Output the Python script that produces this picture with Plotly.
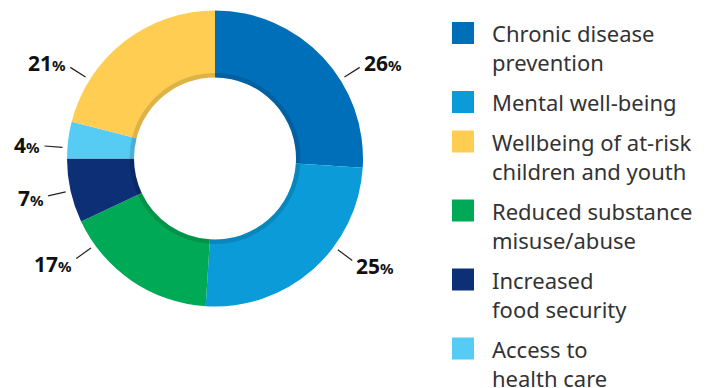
import math
import plotly.graph_objects as go

# ---- data ----
categories = ["Chronic disease prevention", "Mental well-being", "Reduced substance misuse/abuse",
              "Increased food security", "Access to health care", "Wellbeing of at-risk children and youth"]
values = [26, 25, 17, 7, 4, 21]
colors = ["#006fb9", "#0a9bd8", "#00a956", "#0c2f76", "#56cbf4", "#fecd52"]

legend_labels = ["Chronic disease<br>prevention", "Mental well-being", "Wellbeing of at-risk<br>children and youth",
                 "Reduced substance<br>misuse/abuse", "Increased<br>food security", "Access to<br>health care"]
legend_colors = ["#006fb9", "#0a9bd8", "#fecd52", "#00a956", "#0c2f76", "#56cbf4"]

# ---- layout constants (pixels) ----
W, H = 716, 388
CX, CY, R, R_IN = 215, 158.5, 148, 81
leader_shift = [11, -12, 20, 0, -3, -20]   # designer offsets of leader lines from slice mid-angle (deg)

def px(x):
    return x / W

def py(y):
    return (H - y) / H

fig = go.Figure()
fig.add_trace(go.Pie(
    values=values, labels=categories, sort=False, direction="clockwise", rotation=0,
    hole=R_IN / R, marker=dict(colors=colors, line=dict(width=0)),
    textinfo="none", hoverinfo="label+percent", showlegend=False,
    domain=dict(x=[px(CX - R), px(CX + R)], y=[py(CY + R), py(CY - R)]),
))
# subtle inner shadow ring
RS = R_IN + 4.5
fig.add_trace(go.Pie(
    values=values, sort=False, direction="clockwise", rotation=0,
    hole=R_IN / RS, marker=dict(colors=["rgba(0,0,0,0.13)"] * len(values), line=dict(width=0)),
    textinfo="none", hoverinfo="skip", showlegend=False,
    domain=dict(x=[px(CX - RS), px(CX + RS)], y=[py(CY + RS), py(CY - RS)]),
))

shapes = []
annotations = []
total = sum(values)
cum = 0
for v, shift in zip(values, leader_shift):
    mid = (cum + v / 2) / total * 360
    cum += v
    a = math.radians(mid + shift)
    s, c = math.sin(a), math.cos(a)
    x0, y0 = CX + 153 * s, CY - 153 * c
    x1, y1 = CX + 171 * s, CY - 171 * c
    shapes.append(dict(type="line", xref="paper", yref="paper", x0=px(x0), y0=py(y0), x1=px(x1), y1=py(y1),
                       line=dict(color="#222222", width=1.2)))
    right = s > 0
    annotations.append(dict(
        xref="paper", yref="paper", x=px(x1 + (2 if right else -2)), y=py(CY - 180 * c),
        xanchor="left" if right else "right", yanchor="middle", showarrow=False,
        text=f"<b>{v}<span style='font-size:15px'>%</span></b>",
        font=dict(family="Noto Sans", size=21, color="#111111"),
    ))

# manual legend
top = 22
LINE = 29.5
for lab, col in zip(legend_labels, legend_colors):
    lines = lab.split("<br>")
    shapes.append(dict(type="rect", xref="paper", yref="paper", x0=px(452), x1=px(474), y0=py(top), y1=py(top + 22),
                       fillcolor=col, line=dict(width=0)))
    for i, ln in enumerate(lines):
        annotations.append(dict(
            xref="paper", yref="paper", x=px(490), y=py(top + 11 + i * LINE),
            xanchor="left", yanchor="middle", align="left", showarrow=False, text=ln,
            font=dict(family="Noto Sans", size=22, color="#333333"),
        ))
    top += len(lines) * LINE + 10

fig.update_layout(
    width=W, height=H, margin=dict(l=0, r=0, t=0, b=0),
    paper_bgcolor="white", plot_bgcolor="white",
    shapes=shapes, annotations=annotations,
)
fig.write_html("out.html")
